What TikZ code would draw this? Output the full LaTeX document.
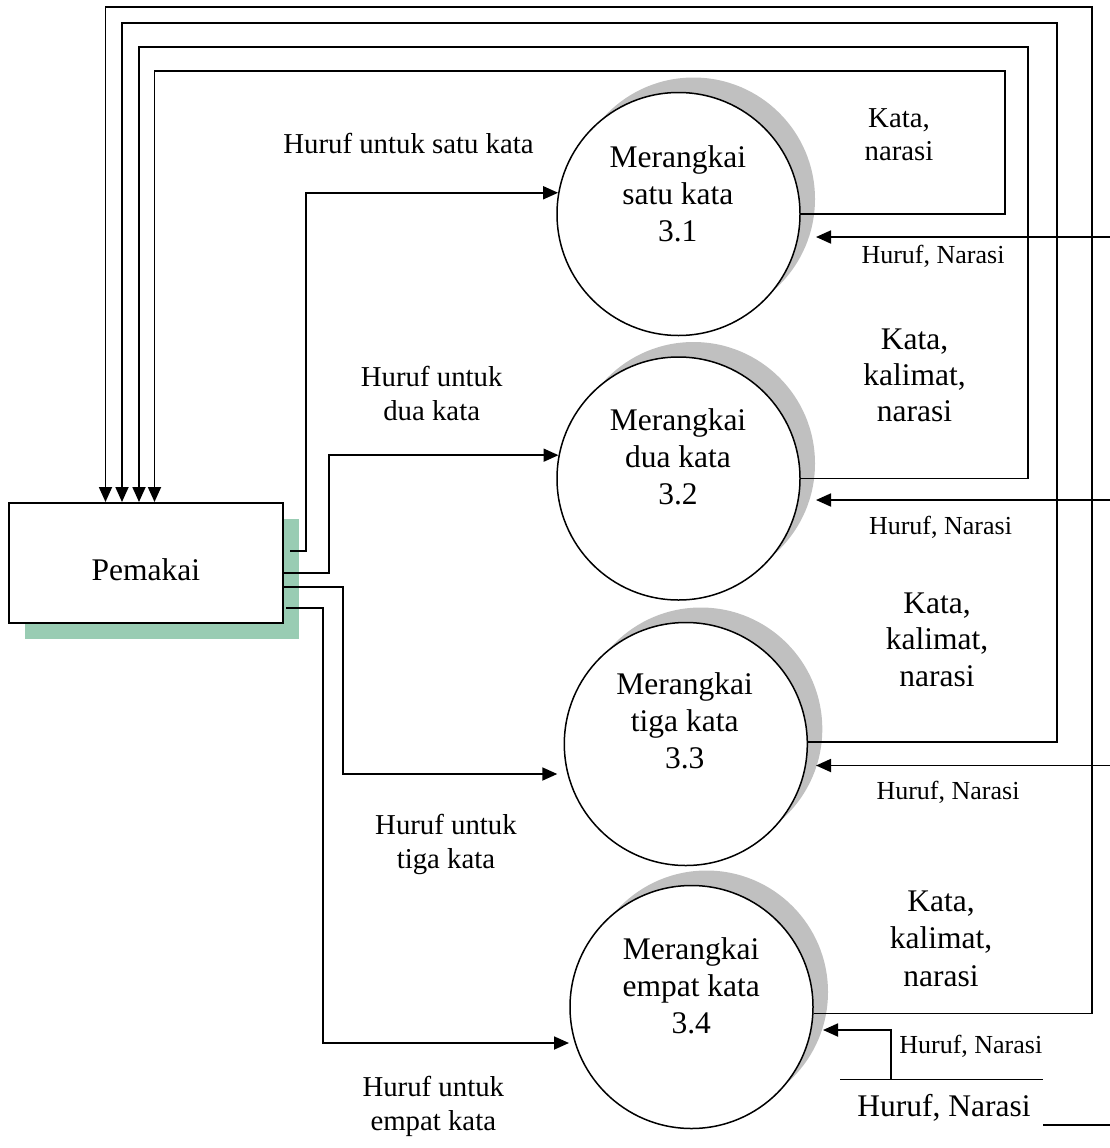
\documentclass[tikz,border=0pt]{standalone}
\usepackage{fontspec}
\setmainfont{Liberation Serif}
\usetikzlibrary{arrows.meta,calc}

\definecolor{entshadow}{RGB}{153,204,179}
\definecolor{procshadow}{RGB}{192,192,192}

% centred multi-line text whose baseline is that of its first line
\newcommand\cstack[1]{\begin{tabular}[t]{@{}c@{}}#1\end{tabular}}

\begin{document}
\begin{tikzpicture}[x=1pt,y=-1pt,
  flow/.style={line width=1.8pt},
  arr/.style={flow,-{Triangle[length=15pt,width=13pt]}},
  proc/.style={circle,draw,line width=1.5pt,fill=white,minimum size=243pt,inner sep=0pt},
  txt/.style={inner sep=0pt,anchor=base},
  big/.style={txt,font=\fontsize{31.5}{37}\selectfont},
  mid/.style={txt,font=\fontsize{28.8}{34}\selectfont},
  small/.style={txt,font=\fontsize{26}{30}\selectfont}]

\useasboundingbox (0,0) rectangle (1110,1148);

% external entity with its shadow
\fill[entshadow] (25,519) rectangle (299,638.5);
\node[draw,line width=1.5pt,fill=white,minimum width=274pt,minimum height=120.3pt,inner sep=0pt] (pem) at (146,562.9) {};
\node[big] (pemlbl) at (145.8,580.7) {Pemakai};

% processes with their shadows
\fill[procshadow] (693.5,199) circle[radius=121.5pt];
\node[proc] (c1) at (678.5,214) {};
\fill[procshadow] (693.5,463.5) circle[radius=121.5pt];
\node[proc] (c2) at (678.5,478.5) {};
\fill[procshadow] (700.8,729) circle[radius=121.5pt];
\node[proc] (c3) at (685.8,744) {};
\fill[procshadow] (706.5,992) circle[radius=121.5pt];
\node[proc] (c4) at (691.5,1007) {};

\node[big] (c1lbl) at (677.8,167) {\cstack{Merangkai\\satu kata\\3.1}};
\node[big] (c2lbl) at (678,430) {\cstack{Merangkai\\dua kata\\3.2}};
\node[big] (c3lbl) at (684.7,694) {\cstack{Merangkai\\tiga kata\\3.3}};
\node[big] (c4lbl) at (691.2,959) {\cstack{Merangkai\\empat kata\\3.4}};

% corners of the return flows
\coordinate (r1) at (1005,70.7);  \coordinate (l1) at (154.5,70.7);
\coordinate (r2) at (1028,47.3);  \coordinate (l2) at (139,47.3);
\coordinate (r3) at (1057,22.7);  \coordinate (l3) at (122,22.7);
\coordinate (r4) at (1092,7.3);   \coordinate (l4) at (105.5,7.3);

\draw[arr] (c1.east) -| (r1) -- (l1) -- (l1 |- pem.north);
\draw[arr] (c2.east) -| (r2) -- (l2) -- (l2 |- pem.north);
\draw[arr] (c3.1) -| (r3) -- (l3) -- (l3 |- pem.north);
\draw[arr] (c4.-3) -| (r4) -- (l4) -- (l4 |- pem.north);

% incoming flows from the right
\coordinate (i1) at (1110,237);   \coordinate (t1) at (816,237);
\coordinate (i2) at (1110,500);   \coordinate (t2) at (816,500);
\coordinate (i3) at (1110,765.5); \coordinate (t3) at (816,765.5);
\coordinate (s4) at (891,1079.3); \coordinate (t4) at (823,1030);
\draw[arr] (i1) -- (t1);
\draw[arr] (i2) -- (t2);
\draw[arr] (i3) -- (t3);
\draw[arr] (s4) |- (t4);

% data store
\node[big] (ds) at (944,1116.7) {Huruf, Narasi};
\coordinate (dsa) at (840,1079.3); \coordinate (dsb) at (1043,1079.3);
\coordinate (dsc) at (1043,1125);  \coordinate (dsd) at (1110,1125);
\draw[flow,line width=1.5pt] (dsa) -- (dsb);
\draw[flow,line width=1.5pt] (dsc) -- (dsd);

% flows from the entity to the processes
\coordinate (o1) at (290,551);   \coordinate (k1) at (305.7,0);
\coordinate (y2) at (0,573);     \coordinate (k2) at (329,0);
\coordinate (y3) at (0,587);     \coordinate (k3) at (343,0);
\coordinate (tl3) at (557.3,774);
\coordinate (o4) at (286,608);   \coordinate (k4) at (323,0);
\coordinate (tl4) at (569,1043);
\draw[arr] (o1) -- (o1 -| k1) |- (c1.170);
\draw[arr] (pem.east |- y2) -- (y2 -| k2) |- (c2.169);
\draw[arr] (pem.east |- y3) -- (y3 -| k3) |- (tl3);
\draw[arr] (o4) -- (o4 -| k4) |- (tl4);

% flow labels
\node[mid] (lf1) at (408.5,153.3) {Huruf untuk satu kata};
\node[mid] (lf2) at (431.7,386) {\cstack{Huruf untuk\\dua kata}};
\node[mid] (lf3) at (446,834) {\cstack{Huruf untuk\\tiga kata}};
\node[mid] (lf4) at (433.3,1096) {\cstack{Huruf untuk\\empat kata}};

\node[mid,font=\fontsize{28.8}{33}\selectfont] (lo1) at (899,127) {\cstack{Kata,\\narasi}};
\node[big,font=\fontsize{31.5}{36.3}\selectfont] (lo2) at (914.5,349.3) {\cstack{Kata,\\kalimat,\\narasi}};
\node[big,font=\fontsize{31.5}{36.5}\selectfont] (lo3) at (937,613) {\cstack{Kata,\\kalimat,\\narasi}};
\node[big,font=\fontsize{31.5}{37.5}\selectfont] (lo4) at (941,911) {\cstack{Kata,\\kalimat,\\narasi}};

\node[small] (li1) at (933,263.3) {Huruf, Narasi};
\node[small] (li2) at (940.5,534) {Huruf, Narasi};
\node[small] (li3) at (948,799.3) {Huruf, Narasi};
\node[small] (li4) at (970.8,1053.3) {Huruf, Narasi};
\end{tikzpicture}
\end{document}
